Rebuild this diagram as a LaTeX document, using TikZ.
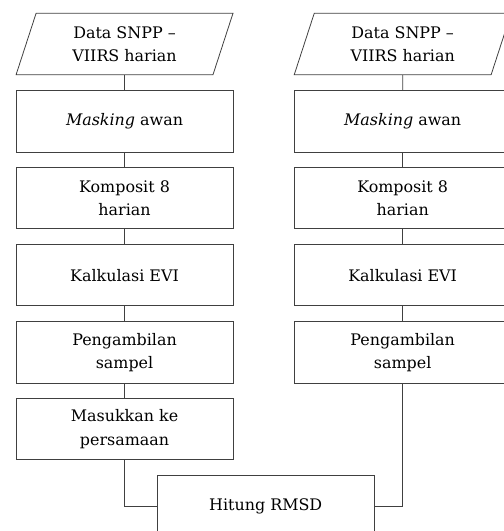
\documentclass[tikz,border=0pt]{standalone}
\usepackage{fontspec}
\setmainfont{DejaVu Serif}
\usetikzlibrary{shapes.geometric}
\tikzset{
	prosesbox/.style={draw=black!75, line width=0.6pt, minimum width=5.75cm, minimum height=1.63cm, align=center, font=\fontsize{12}{17.5}\selectfont, inner sep=2pt},
	databox/.style={prosesbox, trapezium, trapezium left angle=73, trapezium right angle=107, trapezium stretches=true},
	garis/.style={draw=black!75, line width=0.6pt}
}
\begin{document}
\begin{tikzpicture}
		\useasboundingbox (0,0) rectangle (13.33,-14.07);
		\node[databox] (v1) at (3.30,-1.166) {Data SNPP --\\VIIRS harian};
		\node[prosesbox] (v2) at (3.30,-3.22) {\textit{Masking} awan};
		\node[prosesbox] (v3) at (3.30,-5.247) {Komposit 8\\harian};
		\node[prosesbox] (v4) at (3.30,-7.29) {Kalkulasi EVI};
		\node[prosesbox] (v5) at (3.30,-9.34) {Pengambilan\\sampel};
		\node[prosesbox] (v6) at (3.30,-11.37) {Masukkan ke\\persamaan};
		\node[databox] (v7) at (10.67,-1.166) {Data SNPP --\\VIIRS harian};
		\node[prosesbox] (v8) at (10.67,-3.22) {\textit{Masking} awan};
		\node[prosesbox] (v9) at (10.67,-5.247) {Komposit 8\\harian};
		\node[prosesbox] (v10) at (10.67,-7.29) {Kalkulasi EVI};
		\node[prosesbox] (v11) at (10.67,-9.34) {Pengambilan\\sampel};
		\node[prosesbox] (v12) at (7.04,-13.42) {Hitung RMSD};
		\draw [garis] (v1) -- (v2);
		\draw [garis] (v2) -- (v3);
		\draw [garis] (v3) -- (v4);
		\draw [garis] (v4) -- (v5);
		\draw [garis] (v5) -- (v6);
		\draw [garis] (v7) -- (v8);
		\draw [garis] (v8) -- (v9);
		\draw [garis] (v9) -- (v10);
		\draw [garis] (v10) -- (v11);
		\draw [garis] (v6.south) |- (v12.west);
		\draw [garis] (v11.south) |- (v12.east);
		\end{tikzpicture}
\end{document}
